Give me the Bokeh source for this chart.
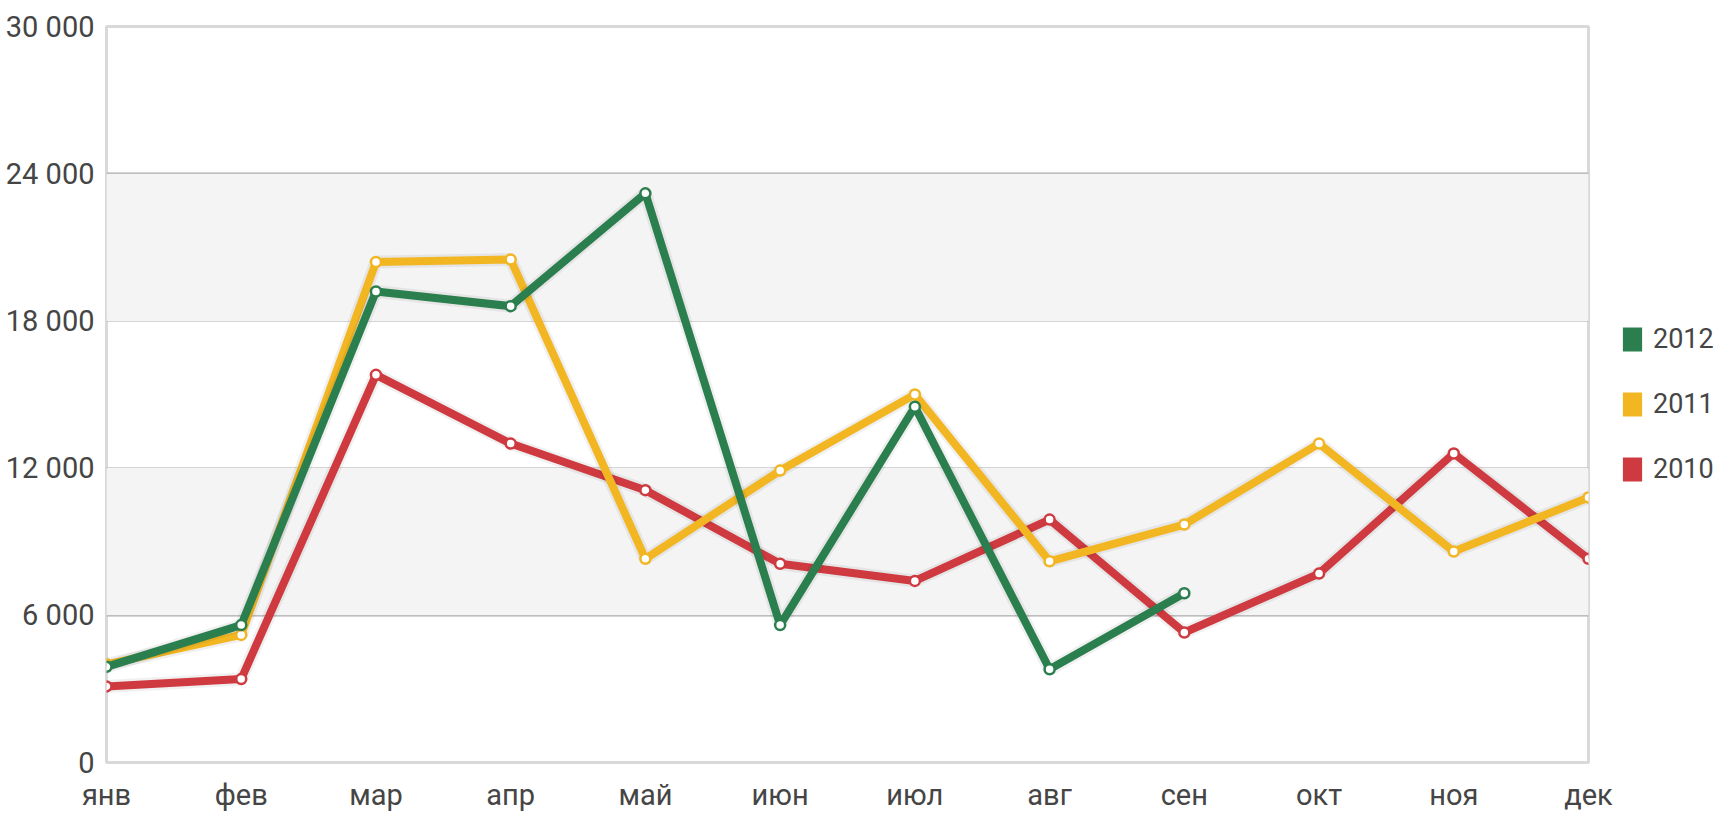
from bokeh.plotting import figure
from bokeh.layouts import row
from bokeh.models import (Range1d, FixedTicker, BoxAnnotation, Legend, LegendItem)
from bokeh.embed import file_html
from bokeh.resources import INLINE

months = ["янв", "фев", "мар", "апр", "май", "июн", "июл", "авг", "сен", "окт", "ноя", "дек"]
y_ticks = [0, 6000, 12000, 18000, 24000, 30000]
y_tick_labels = ["0", "6 000", "12 000", "18 000", "24 000", "30 000"]

series_names = ["2012", "2011", "2010"]
values_2012 = [3900, 5600, 19200, 18600, 23200, 5600, 14500, 3800, 6900]
values_2011 = [4000, 5200, 20400, 20500, 8300, 11900, 15000, 8200, 9700, 13000, 8600, 10800]
values_2010 = [3100, 3400, 15800, 13000, 11100, 8100, 7400, 9900, 5300, 7700, 12600, 8300]
colors = ["#2b7f4e", "#f3b623", "#cf3a40"]

FONT = "Roboto"
TEXT_COLOR = "#454545"

H = 814
B_LEFT, B_RIGHT, B_TOP = 106, 26, 26
FRAME_W, FRAME_H = 1482, 743
W_MAIN = B_LEFT + FRAME_W + B_RIGHT
B_BOTTOM = H - B_TOP - FRAME_H
W_LEG = 1715 - W_MAIN

p = figure(width=W_MAIN, height=H, output_backend="svg", toolbar_location=None,
           x_range=Range1d(0, len(months) - 1), y_range=Range1d(0, 30000),
           min_border_left=B_LEFT, min_border_right=B_RIGHT, min_border_top=B_TOP,
           min_border_bottom=B_BOTTOM)
p.background_fill_color = "white"
p.border_fill_color = "white"
p.outline_line_color = "#d9d9d9"
p.outline_line_width = 3

# alternating bands
p.add_layout(BoxAnnotation(bottom=y_ticks[3], top=y_ticks[4], fill_color="#f4f4f4",
                           fill_alpha=1, line_color=None, level="underlay"))
p.add_layout(BoxAnnotation(bottom=y_ticks[1], top=y_ticks[2], fill_color="#f4f4f4",
                           fill_alpha=1, line_color=None, level="underlay"))

p.xgrid.grid_line_color = None
p.ygrid.grid_line_color = "#ababab"
p.ygrid.grid_line_width = 2
p.ygrid.ticker = FixedTicker(ticks=y_ticks[1:-1])

# axes
p.xaxis.ticker = FixedTicker(ticks=list(range(len(months))))
p.xaxis.major_label_overrides = {i: m for i, m in enumerate(months)}
p.yaxis.ticker = FixedTicker(ticks=y_ticks)
p.yaxis.major_label_overrides = {t: l for t, l in zip(y_ticks, y_tick_labels)}
for ax in (p.xaxis[0], p.yaxis[0]):
    ax.axis_line_color = None
    ax.major_tick_line_color = None
    ax.minor_tick_line_color = None
    ax.major_label_text_font = FONT
    ax.major_label_text_font_size = "29px"
    ax.major_label_text_color = TEXT_COLOR
p.xaxis.major_label_standoff = 9
p.yaxis.major_label_standoff = 6

# lines
all_values = [values_2012, values_2011, values_2010]
for name, vals, col in reversed(list(zip(series_names, all_values, colors))):
    xs = list(range(len(vals)))
    p.line(xs, vals, line_color="#000000", line_alpha=0.06, line_width=13)
    p.line(xs, vals, line_color=col, line_width=8, line_join="round")
    p.scatter(xs, vals, marker="circle", size=10, fill_color="white",
              line_color=col, line_width=2.5)

# legend in its own narrow figure (hidden proxy renderers built from the data)
lg = figure(width=W_LEG, height=H, output_backend="svg", toolbar_location=None,
            x_axis_type=None, y_axis_type=None,
            x_range=Range1d(0, len(months) - 1), y_range=Range1d(0, 30000),
            min_border_left=0, min_border_right=0, min_border_top=0,
            min_border_bottom=0)
lg.outline_line_color = None
lg.grid.grid_line_color = None
lg.background_fill_color = "white"
lg.border_fill_color = "white"

legend_items = []
for name, vals, col in zip(series_names, all_values, colors):
    xs = list(range(len(vals)))
    r = lg.quad(left=xs, right=xs, top=vals, bottom=vals, fill_color=col,
                line_color=None, visible=False)
    legend_items.append(LegendItem(label=name, renderers=[r]))

legend = Legend(items=legend_items, location=(6, 276))
legend.border_line_color = None
legend.background_fill_alpha = 0
legend.margin = 0
legend.padding = 0
legend.glyph_width = 24
legend.glyph_height = 30
legend.label_height = 34
legend.label_standoff = 9
legend.spacing = 31
legend.label_text_font = FONT
legend.label_text_font_size = "27px"
legend.label_text_color = TEXT_COLOR
lg.add_layout(legend, "center")

layout = row(p, lg)
open("out.html", "w").write(file_html(layout, INLINE))
